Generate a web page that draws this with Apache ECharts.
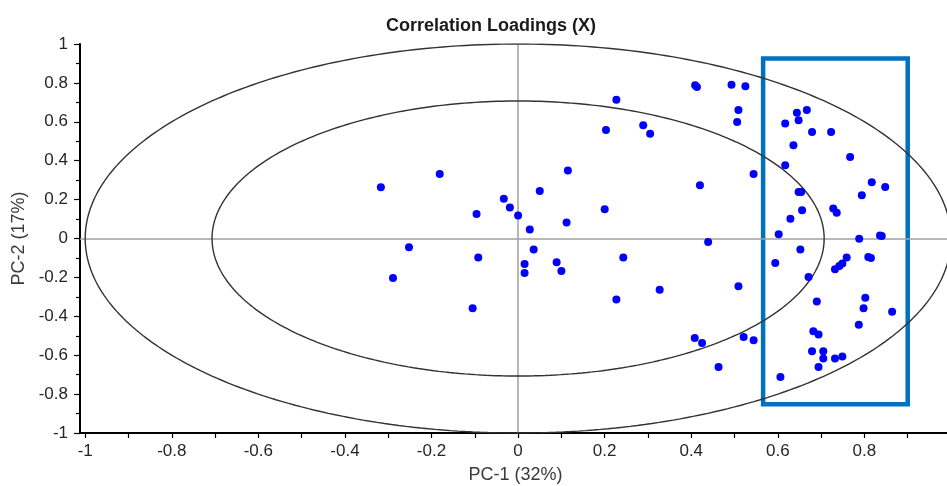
<!DOCTYPE html>
<html><head><meta charset="utf-8">
<script src="https://cdn.jsdelivr.net/npm/echarts@6/dist/echarts.min.js"></script>
<style>html,body{margin:0;padding:0;background:#fff}#c{width:947px;height:486px}</style>
</head><body><div id="c"></div>
<script>
// Correlation loadings
const pc1 = [-0.317,-0.181,-0.096,-0.252,-0.092,-0.289,-0.105,-0.033,-0.019,0.000,0.050,0.027,0.036,0.015,0.015,0.089,0.100,0.112,0.115,0.200,0.203,0.227,0.289,0.305,0.243,0.227,0.327,0.420,0.439,0.409,0.413,0.493,0.525,0.509,0.506,0.544,0.509,0.408,0.425,0.521,0.544,0.463,0.617,0.644,0.648,0.667,0.679,0.723,0.636,0.767,0.617,0.817,0.848,0.794,0.648,0.654,0.656,0.728,0.736,0.629,0.602,0.788,0.836,0.840,0.652,0.594,0.759,0.809,0.815,0.732,0.742,0.749,0.671,0.690,0.802,0.798,0.864,0.787,0.682,0.694,0.679,0.705,0.705,0.732,0.749,0.694,0.606];
const pc2 = [0.263,0.332,0.126,-0.045,-0.098,-0.203,-0.359,0.205,0.159,0.118,0.244,0.046,-0.057,-0.131,-0.177,-0.122,-0.167,0.082,0.349,0.150,0.558,0.713,0.582,0.539,-0.098,-0.314,-0.263,0.274,-0.018,0.788,0.779,0.791,0.783,0.661,0.599,0.332,-0.246,-0.512,-0.537,-0.506,-0.523,-0.661,0.591,0.646,0.608,0.661,0.548,0.548,0.479,0.419,0.376,0.289,0.265,0.222,0.239,0.239,0.145,0.154,0.133,0.102,0.022,-0.001,0.015,0.013,-0.056,-0.126,-0.098,-0.095,-0.100,-0.158,-0.141,-0.129,-0.198,-0.324,-0.304,-0.359,-0.376,-0.443,-0.477,-0.494,-0.580,-0.580,-0.617,-0.617,-0.607,-0.661,-0.712];
// explained-variance circles (radius 1 and sqrt(0.5))
const circleRadii = [1, 0.707];
// tick values
const xLabelTicks = [-1,-0.8,-0.6,-0.4,-0.2,0,0.2,0.4,0.6,0.8,1];
const xMinorTicks = [-1,-0.9,-0.8,-0.7,-0.6,-0.5,-0.4,-0.3,-0.2,-0.1,0,0.1,0.2,0.3,0.4,0.5,0.6,0.7,0.8,0.9,1];
// highlighted region [x1, y1, x2, y2]
const highlightBox = [0.566, 0.926, 0.900, -0.852];

const points = pc1.map((x, i) => [x, pc2[i]]);
function circle(r) {
  const out = [];
  for (let a = 0; a <= 360; a += 1) {
    const t = a * Math.PI / 180;
    out.push([r * Math.cos(t), r * Math.sin(t)]);
  }
  return out;
}
const fmt = v => (Math.abs(v) < 1e-9 ? '0' : String(+v.toFixed(1)));
const FONT = 'Liberation Sans, Arial, sans-serif';

const chart = echarts.init(document.getElementById('c'), null, {renderer: 'canvas'});
const series = circleRadii.map(r => ({
  type: 'line', data: circle(r), showSymbol: false, smooth: false, silent: true,
  lineStyle: {color: '#333333', width: 1.4}, z: 2, clip: true
}));
series.push({
  type: 'scatter', data: points, symbolSize: 8,
  itemStyle: {color: '#0000ff', opacity: 1}, z: 5,
  markLine: {
    silent: true, symbol: 'none', label: {show: false},
    lineStyle: {color: '#a0a0a0', width: 1.5, type: 'solid'},
    data: [{xAxis: 0}, {yAxis: 0}], z: 1
  }
});
series.push({
  type: 'scatter', data: [], z: 10,
  markArea: {
    silent: true,
    itemStyle: {color: 'rgba(0,0,0,0)', borderColor: '#0070c0', borderWidth: 4.5, borderRadius: 2},
    data: [[{coord: [highlightBox[0], highlightBox[1]]}, {coord: [highlightBox[2], highlightBox[3]]}]]
  }
});

chart.setOption({
  animation: false,
  title: {
    text: 'Correlation Loadings (X)', left: 486, top: 12, textAlign: 'center',
    textStyle: {fontFamily: FONT, fontSize: 18, fontWeight: 'bold', color: '#1a1a1a'}
  },
  grid: {left: 80, right: -4, top: 44, bottom: 53, containLabel: false, outerBoundsMode: 'none'},
  xAxis: {
    type: 'value', min: -1.012, max: 1,
    name: 'PC-1 (32%)', nameLocation: 'middle', nameGap: 33,
    nameTextStyle: {fontFamily: FONT, fontSize: 18, color: '#3a3a3a'},
    axisLine: {show: true, onZero: false, lineStyle: {color: '#000', width: 2}},
    axisTick: {show: true, customValues: xMinorTicks, length: 5, lineStyle: {color: '#000', width: 1.2}},
    axisLabel: {customValues: xLabelTicks, formatter: fmt, margin: 10,
      fontFamily: FONT, fontSize: 17, color: '#262626'},
    splitLine: {show: false}
  },
  yAxis: {
    type: 'value', min: -1, max: 1, interval: 0.2,
    name: 'PC-2 (17%)', nameLocation: 'middle', nameGap: 44, nameRotate: 90,
    nameTextStyle: {fontFamily: FONT, fontSize: 18, color: '#3a3a3a'},
    axisLine: {show: true, onZero: false, lineStyle: {color: '#000', width: 2}},
    axisTick: {show: true, length: 6, lineStyle: {color: '#000', width: 1.2}},
    minorTick: {show: true, splitNumber: 2, length: 4, lineStyle: {color: '#000', width: 1.2}},
    axisLabel: {formatter: fmt, margin: 12, fontFamily: FONT, fontSize: 17, color: '#262626'},
    splitLine: {show: false}
  },
  series: series
});
</script>
</body></html>
